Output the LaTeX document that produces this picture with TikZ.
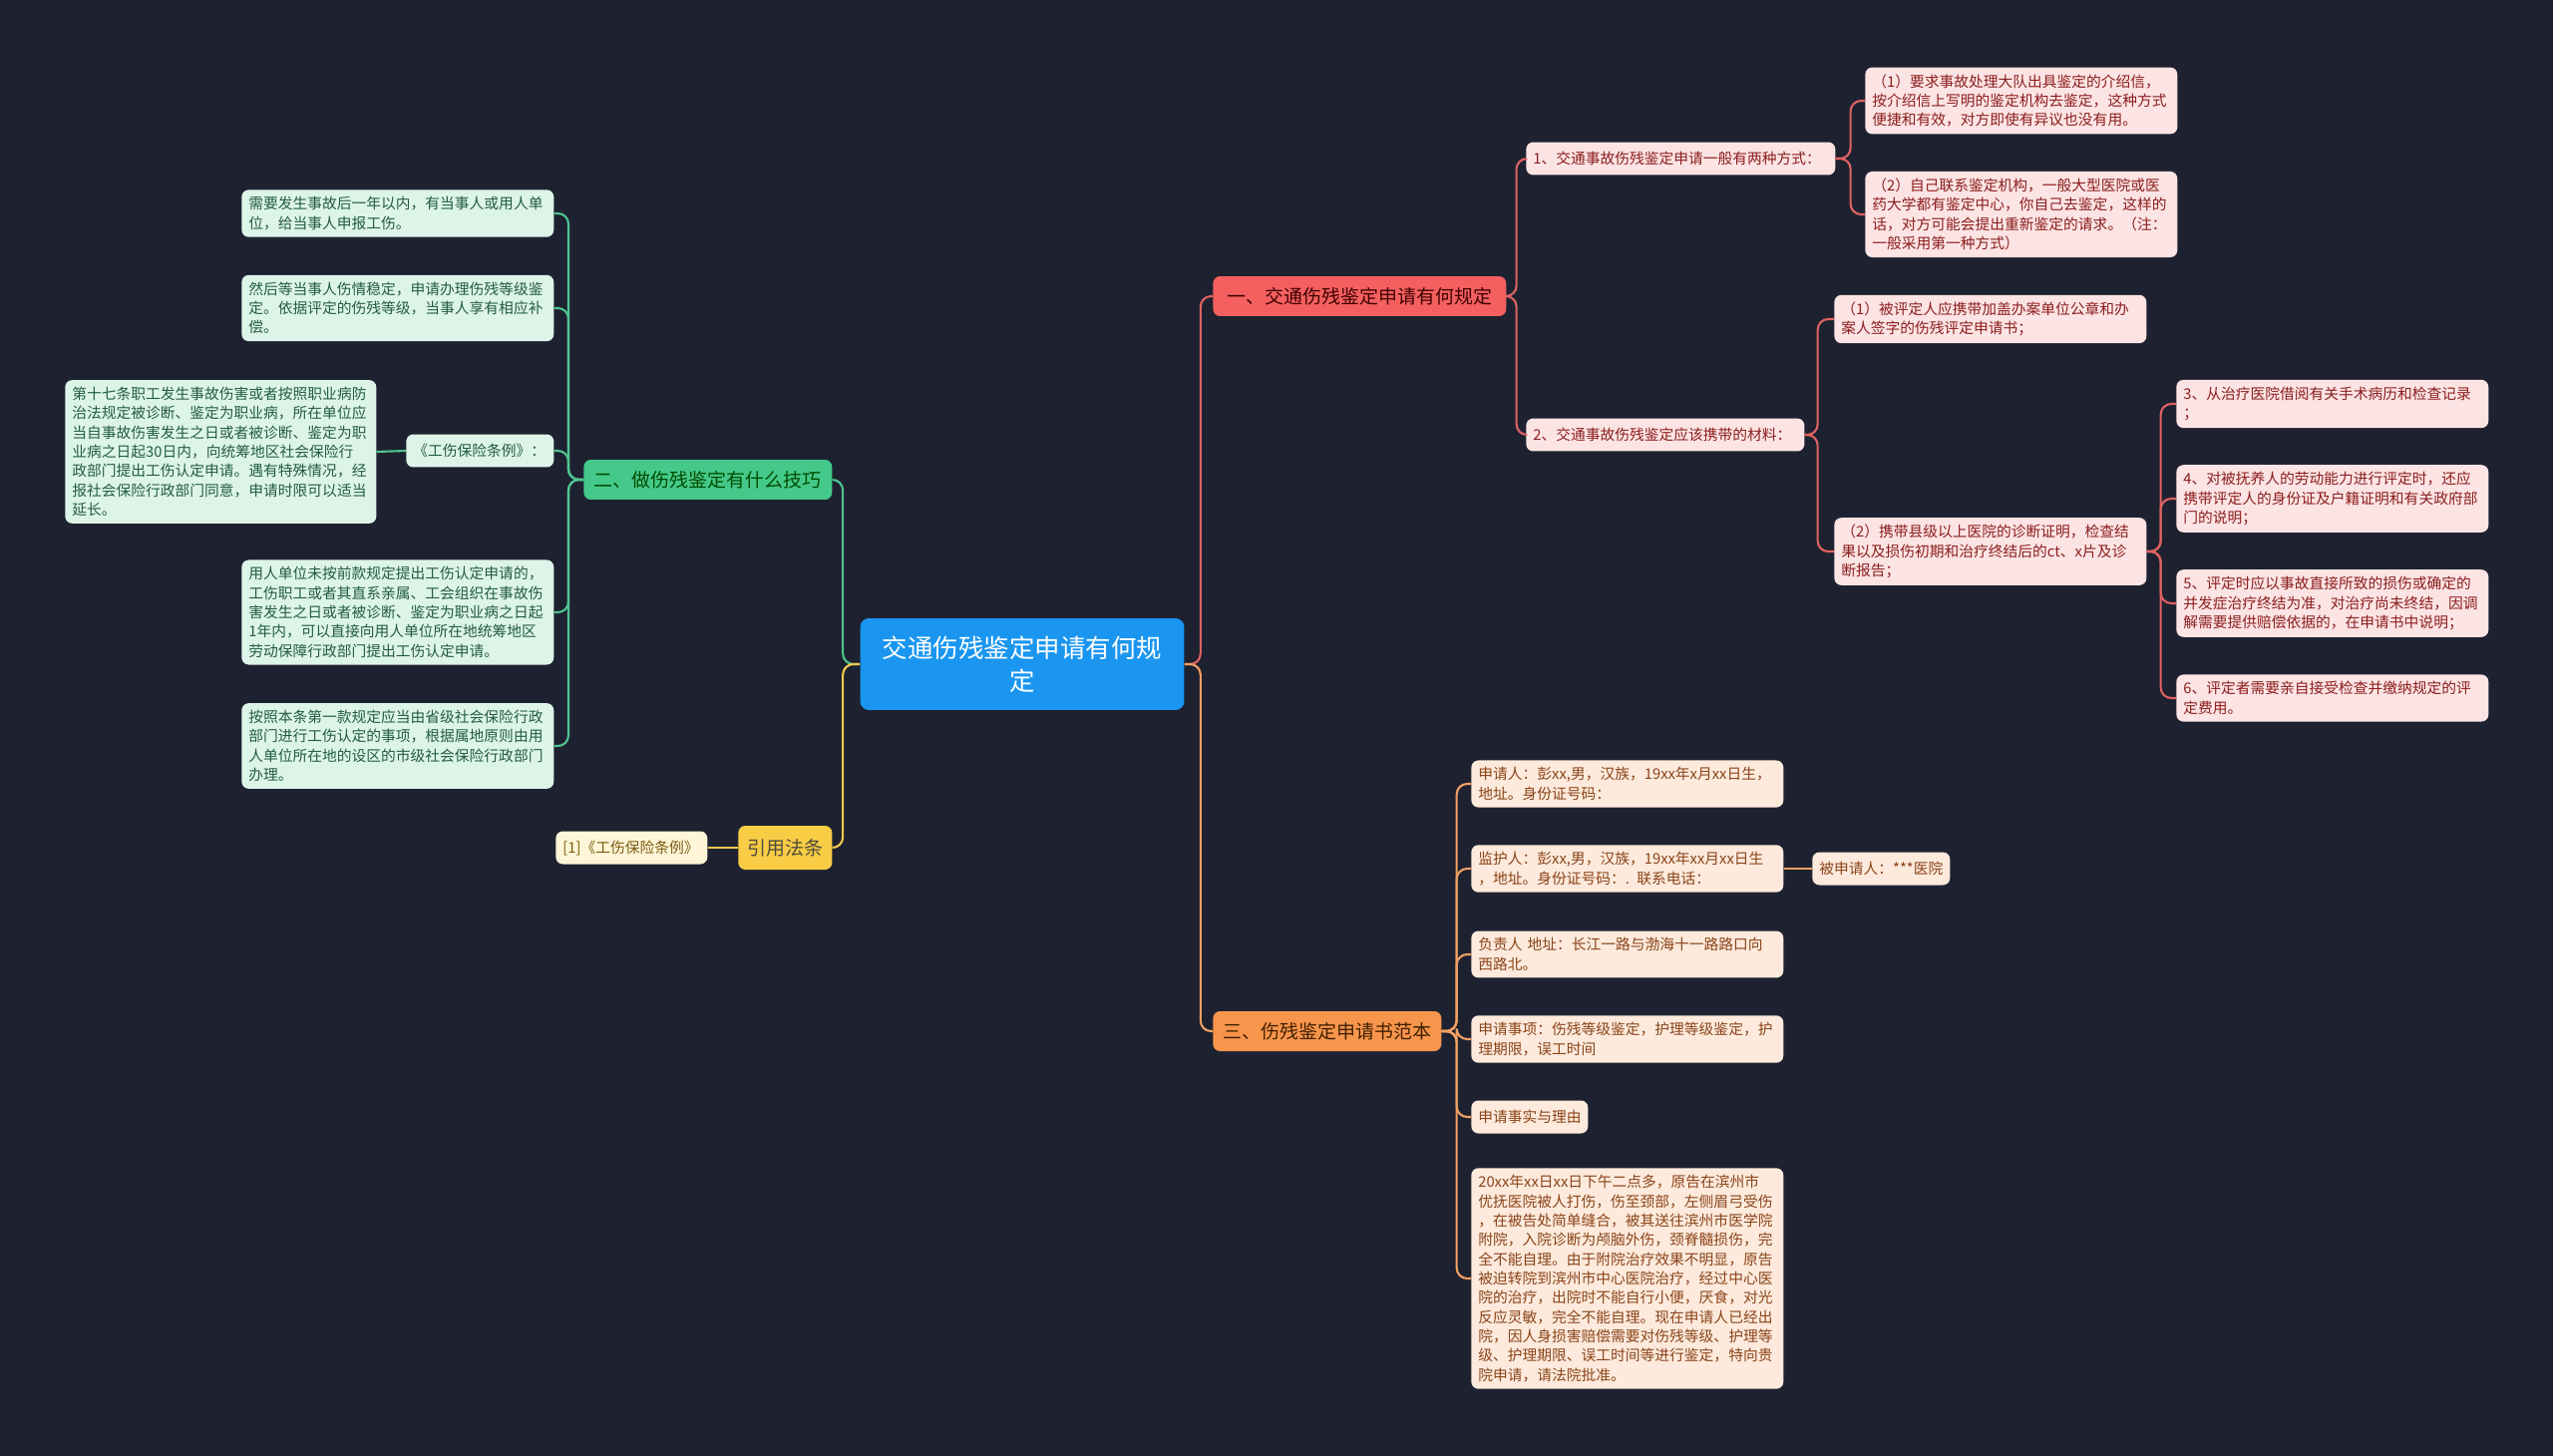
\documentclass[tikz,border=0pt]{standalone}
\usepackage{fontspec}
\setmainfont{Noto Sans CJK SC}
\definecolor{bg}{HTML}{1E2230}
\definecolor{rootfill}{HTML}{1A96F0}
\definecolor{redbr}{HTML}{F46060}
\definecolor{redfill}{HTML}{FDE4E4}
\definecolor{redtext}{HTML}{8B1E1E}
\definecolor{redln}{HTML}{E06262}
\definecolor{greenbr}{HTML}{44C98A}
\definecolor{greenfill}{HTML}{DDF5E9}
\definecolor{greentext}{HTML}{245C3F}
\definecolor{greenln}{HTML}{4FC590}
\definecolor{orangebr}{HTML}{F8954C}
\definecolor{orangefill}{HTML}{FDEADC}
\definecolor{orangetext}{HTML}{8A4419}
\definecolor{orangeln}{HTML}{F2A063}
\definecolor{yellowbr}{HTML}{F8CD45}
\definecolor{yellowfill}{HTML}{FFF5D8}
\definecolor{yellowtext}{HTML}{7A5C10}
\definecolor{yellowln}{HTML}{F2C94C}

\begin{document}
\begin{tikzpicture}[x=0.02cm, y=-0.02cm,
  root/.style = {fill=rootfill, text=white, rounded corners=5pt, align=center,
    minimum width=6.5cm, minimum height=1.84cm, font=\fontsize{14.5}{19}\selectfont},
  branch/.style = {rounded corners=4pt, anchor=west, align=center, inner xsep=0.1cm,
    minimum height=0.8cm, font=\fontsize{10.8}{13}\selectfont},
  leaf/.style = {rounded corners=4pt, anchor=west, align=left, inner xsep=0.14cm,
    inner ysep=0.14cm, minimum height=0.66cm, text width=5.98cm,
    font=\fontsize{8.4}{11}\selectfont},
  redleaf/.style = {leaf, fill=redfill, text=redtext},
  greenleaf/.style = {leaf, fill=greenfill, text=greentext},
  orangeleaf/.style = {leaf, fill=orangefill, text=orangetext},
  yellowleaf/.style = {leaf, fill=yellowfill, text=yellowtext},
  link/.style = {line width=1.2pt, rounded corners=6pt}]

\fill[bg] (0,0) rectangle (2560,1460);
\useasboundingbox (0,0) rectangle (2560,1460);

\node[root] (c) at (1025,666) {交通伤残鉴定申请有何规\\定};

% red branch
\node[branch, fill=redbr, text=black!75!red, minimum width=5.88cm] (r0) at (1216,297) {一、交通伤残鉴定申请有何规定};
\node[redleaf, text width=5.92cm] (r1) at (1530,159) {1、交通事故伤残鉴定申请一般有两种方式：};
\node[redleaf] (r11) at (1870,101) {（1）要求事故处理大队出具鉴定的介绍信，\\按介绍信上写明的鉴定机构去鉴定，这种方式\\便捷和有效，对方即使有异议也没有用。};
\node[redleaf] (r12) at (1870,215) {（2）自己联系鉴定机构，一般大型医院或医\\药大学都有鉴定中心，你自己去鉴定，这样的\\话，对方可能会提出重新鉴定的请求。（注：\\一般采用第一种方式）};
\node[redleaf, text width=5.3cm] (r2) at (1530,436) {2、交通事故伤残鉴定应该携带的材料：};
\node[redleaf] (r21) at (1839,320) {（1）被评定人应携带加盖办案单位公章和办\\案人签字的伤残评定申请书；};
\node[redleaf] (r22) at (1839,553) {（2）携带县级以上医院的诊断证明，检查结\\果以及损伤初期和治疗终结后的ct、x片及诊\\断报告；};
\node[redleaf] (r3) at (2182,405) {3、从治疗医院借阅有关手术病历和检查记录\\；};
\node[redleaf] (r4) at (2182,500) {4、对被抚养人的劳动能力进行评定时，还应\\携带评定人的身份证及户籍证明和有关政府部\\门的说明；};
\node[redleaf] (r5) at (2182,605) {5、评定时应以事故直接所致的损伤或确定的\\并发症治疗终结为准，对治疗尚未终结，因调\\解需要提供赔偿依据的，在申请书中说明；};
\node[redleaf] (r6) at (2182,700) {6、评定者需要亲自接受检查并缴纳规定的评\\定费用。};

% orange branch
\node[branch, fill=orangebr, text=black!75!orange, minimum width=4.58cm] (o0) at (1216,1034) {三、伤残鉴定申请书范本};
\node[orangeleaf] (o1) at (1475,786) {申请人：彭xx,男，汉族，19xx年x月xx日生，\\地址。身份证号码：};
\node[orangeleaf] (o2) at (1475,871) {监护人：彭xx,男，汉族，19xx年xx月xx日生\\，地址。身份证号码：. 联系电话：};
\node[orangeleaf, text width=2.48cm] (o21) at (1817,871) {被申请人：***医院};
\node[orangeleaf] (o3) at (1475,957) {负责人 地址：长江一路与渤海十一路路口向\\西路北。};
\node[orangeleaf] (o4) at (1475,1042) {申请事项：伤残等级鉴定，护理等级鉴定，护\\理期限，误工时间};
\node[orangeleaf, text width=2.06cm] (o5) at (1475,1120) {申请事实与理由};
\node[orangeleaf] (o6) at (1475,1282) {20xx年xx日xx日下午二点多，原告在滨州市\\优抚医院被人打伤，伤至颈部，左侧眉弓受伤\\，在被告处简单缝合，被其送往滨州市医学院\\附院，入院诊断为颅脑外伤，颈脊髓损伤，完\\全不能自理。由于附院治疗效果不明显，原告\\被迫转院到滨州市中心医院治疗，经过中心医\\院的治疗，出院时不能自行小便，厌食，对光\\反应灵敏，完全不能自理。现在申请人已经出\\院，因人身损害赔偿需要对伤残等级、护理等\\级、护理期限、误工时间等进行鉴定，特向贵\\院申请，请法院批准。};

% green branch
\node[branch, fill=greenbr, text=black!70!green, minimum width=4.98cm] (g0) at (585,481) {二、做伤残鉴定有什么技巧};
\node[greenleaf] (g1) at (242,214) {需要发生事故后一年以内，有当事人或用人单\\位，给当事人申报工伤。};
\node[greenleaf] (g2) at (242,309) {然后等当事人伤情稳定，申请办理伤残等级鉴\\定。依据评定的伤残等级，当事人享有相应补\\偿。};
\node[greenleaf, text width=2.68cm] (g3) at (407,452) {《工伤保险条例》：};
\node[greenleaf, text width=5.96cm] (g31) at (65,453) {第十七条职工发生事故伤害或者按照职业病防\\治法规定被诊断、鉴定为职业病，所在单位应\\当自事故伤害发生之日或者被诊断、鉴定为职\\业病之日起30日内，向统筹地区社会保险行\\政部门提出工伤认定申请。遇有特殊情况，经\\报社会保险行政部门同意，申请时限可以适当\\延长。};
\node[greenleaf] (g4) at (242,614) {用人单位未按前款规定提出工伤认定申请的，\\工伤职工或者其直系亲属、工会组织在事故伤\\害发生之日或者被诊断、鉴定为职业病之日起\\1年内，可以直接向用人单位所在地统筹地区\\劳动保障行政部门提出工伤认定申请。};
\node[greenleaf] (g5) at (242,748) {按照本条第一款规定应当由省级社会保险行政\\部门进行工伤认定的事项，根据属地原则由用\\人单位所在地的设区的市级社会保险行政部门\\办理。};

% yellow branch
\node[branch, fill=yellowbr, text=black!80!yellow, minimum width=1.88cm, minimum height=0.88cm] (y0) at (740,850) {引用法条};
\node[yellowleaf, text width=2.76cm] (y1) at (557,850) {[1]《工伤保险条例》};

% links
\draw[link, redln] (c.east) -- ++(16,0) |- (r0.west);
\draw[link, orangeln] (c.east) -- ++(16,0) |- (o0.west);
\draw[link, greenln] (c.west) -- ++(-17,0) |- (g0.east);
\draw[link, yellowln] (c.west) -- ++(-17,0) |- (y0.east);

\foreach \k in {r1,r2} \draw[link, redln] (r0.east) -- ++(10,0) |- (\k.west);
\foreach \k in {r11,r12} \draw[link, redln] (r1.east) -- ++(15,0) |- (\k.west);
\foreach \k in {r21,r22} \draw[link, redln] (r2.east) -- ++(13,0) |- (\k.west);
\foreach \k in {r3,r4,r5,r6} \draw[link, redln] (r22.east) -- ++(14,0) |- (\k.west);

\foreach \k in {o1,o2,o3,o4,o5,o6} \draw[link, orangeln] (o0.east) -- ++(15,0) |- (\k.west);
\draw[link, orangeln] (o2.east) -- (o21.west);

\foreach \k in {g1,g2,g3,g4,g5} \draw[link, greenln] (g0.west) -- ++(-15,0) |- (\k.east);
\draw[link, greenln] (g3.west) -- (g31.east);

\draw[link, yellowln] (y0.west) -- (y1.east);

\end{tikzpicture}
\end{document}
